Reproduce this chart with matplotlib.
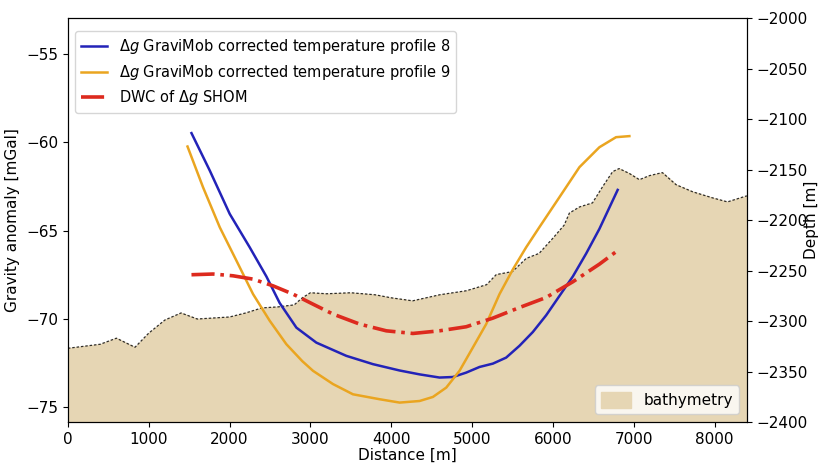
import numpy as np
import matplotlib
matplotlib.use("Agg")
import matplotlib.pyplot as plt

# Bathymetry (depth, m)
bathy_x = [0, 400, 600, 830, 1000, 1200, 1400, 1600, 1800, 2000, 2200, 2400, 2600, 2800, 2900,
           3000, 3200, 3500, 3800, 4000, 4265, 4600, 4930, 5180, 5300, 5500, 5670, 5830, 6000,
           6140, 6205, 6330, 6490, 6615, 6740, 6820, 6950, 7070, 7195, 7355, 7525, 7730, 7975,
           8160, 8400]
bathy_d = [-2327, -2323, -2317, -2326, -2312, -2299, -2292, -2298, -2297, -2296, -2292, -2287,
           -2286, -2284, -2277, -2272, -2273, -2272, -2274, -2277, -2280, -2274, -2270, -2264,
           -2254, -2251, -2238, -2233, -2218, -2205, -2193, -2187, -2183, -2167, -2152, -2149,
           -2154, -2160, -2156, -2153, -2165, -2172, -2178, -2182, -2176]

# Profile 8 (mGal)
p8_x = [1529, 1755, 2002, 2250, 2456, 2620, 2827, 3074, 3445, 3774, 4104, 4351, 4598,
        4763, 4928, 5093, 5258, 5422, 5587, 5752, 5917, 6082, 6247, 6412, 6576, 6802]
p8_y = [-59.47, -61.59, -64.05, -65.95, -67.6, -69.1, -70.5, -71.35, -72.1, -72.57,
        -72.93, -73.15, -73.33, -73.3, -73.05, -72.73, -72.54, -72.2, -71.53, -70.75, -69.8,
        -68.7, -67.6, -66.3, -64.9, -62.69]

# Profile 9 (mGal)
p9_x = [1480, 1672, 1879, 2085, 2291, 2497, 2703, 2900, 3033, 3280, 3527, 3857, 4104, 4351,
        4516, 4681, 4845, 5010, 5175, 5340, 5505, 5669, 5834, 6082, 6329, 6576, 6782, 6947]
p9_y = [-60.23, -62.54, -64.81, -66.7, -68.6, -70.11, -71.44, -72.4, -72.95, -73.7, -74.28,
        -74.56, -74.75, -74.66, -74.43, -73.9, -72.95, -71.63, -70.3, -68.6, -67.2, -65.95,
        -64.8, -63.1, -61.4, -60.27, -59.7, -59.64]

# DWC of SHOM (mGal)
dwc_x = [1529, 1796, 2043, 2291, 2538, 2785, 3033, 3280, 3610, 3939, 4269, 4598, 4928, 5258,
         5587, 5917, 6247, 6576, 6790]
dwc_y = [-67.5, -67.46, -67.56, -67.75, -68.13, -68.6, -69.17, -69.73, -70.3, -70.68, -70.83,
         -70.68, -70.45, -69.96, -69.36, -68.79, -67.9, -66.9, -66.17]

fig = plt.figure(figsize=(8.18, 4.65), dpi=100)
ax = fig.add_axes([0.083, 0.0925, 0.83, 0.8685])
ax2 = ax.twinx()

ax2.fill_between(bathy_x, bathy_d, -2400, color='#e6d6b4', label='bathymetry', zorder=1)
ax2.plot(bathy_x, bathy_d, color='black', linestyle=(0, (2, 1.5)), linewidth=0.9, alpha=0.8)
ax2.set_ylim(-2400, -2000)
ax2.set_ylabel('Depth [m]', fontsize=11, labelpad=-3)
ax2.tick_params(labelsize=11)
ax2.legend(loc='lower right', fontsize=11, handlelength=2.0, handleheight=1.3)

ax.set_zorder(ax2.get_zorder() + 1)
ax.patch.set_visible(False)

ax.plot(p8_x, p8_y, color='#2323b8', linewidth=1.8,
        label=r'$\Delta g$ GraviMob corrected temperature profile 8')
ax.plot(p9_x, p9_y, color='#eaa520', linewidth=1.8,
        label=r'$\Delta g$ GraviMob corrected temperature profile 9')
ax.plot(dwc_x, dwc_y, color='#dd2a1e', linewidth=2.6, linestyle='-.',
        label=r'DWC of $\Delta g$ SHOM')
ax.set_xlim(0, 8400)
ax.set_ylim(-75.85, -52.95)
ax.set_yticks([-75, -70, -65, -60, -55])
ax.set_xlabel('Distance [m]', fontsize=11, labelpad=1)
ax.set_ylabel('Gravity anomaly [mGal]', fontsize=11)
ax.tick_params(labelsize=11)
ax.legend(loc='upper left', fontsize=10.5, handlelength=1.8, labelspacing=0.45,
          bbox_to_anchor=(0.0, 0.985))

fig.savefig('out.png', dpi=100)
